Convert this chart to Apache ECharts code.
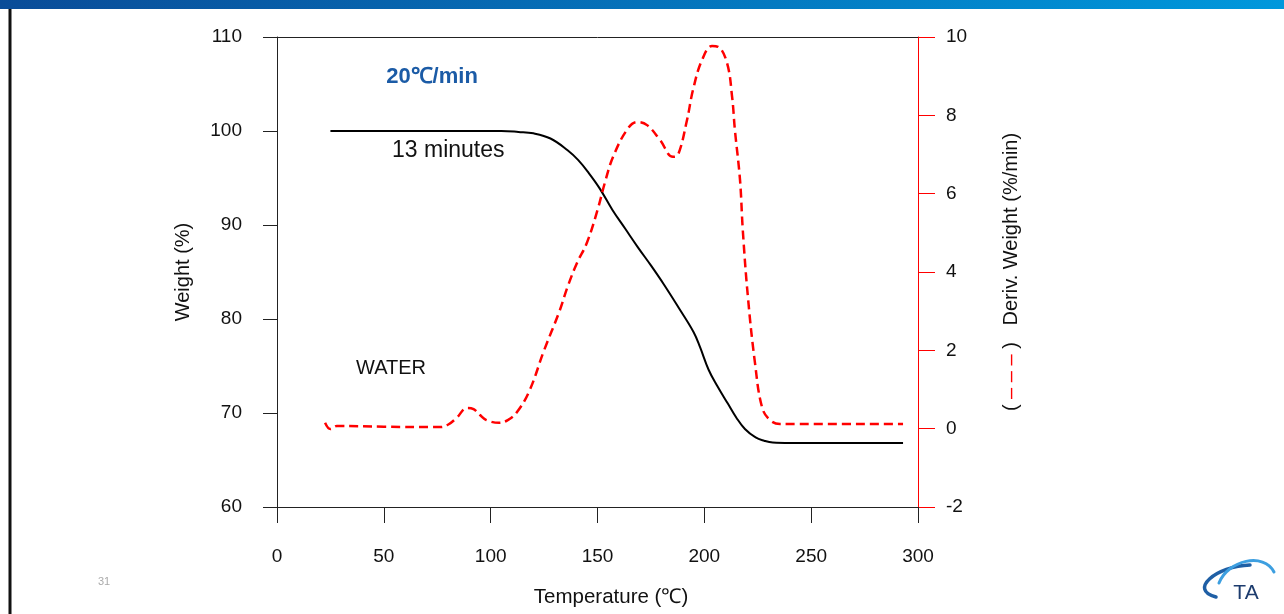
<!DOCTYPE html>
<html>
<head>
<meta charset="utf-8">
<title>TGA 20℃/min</title>
<script src="https://cdn.jsdelivr.net/npm/echarts@6/dist/echarts.min.js"></script>
<style>
  html, body { margin: 0; padding: 0; background: #ffffff; }
  #chart { width: 1284px; height: 614px; }
</style>
</head>
<body>
<div id="chart"></div>
<script>
// Temperature axis (℃)
const tempMin = 0, tempMax = 300, tempStep = 50;
// Weight axis (%)
const weightMin = 60, weightMax = 110, weightStep = 10;
// Derivative axis (%/min)
const derivMin = -2, derivMax = 10, derivStep = 2;

// Weight curve
const weightTemp = [25, 60, 105, 113, 120, 128, 136, 141, 146, 151, 157, 163, 169, 175, 181, 188, 195, 198, 202, 206, 211, 215, 219, 224, 228, 232, 240, 293];
const weightPct  = [100, 100, 100, 99.9, 99.75, 99.2, 97.95, 96.9, 95.5, 93.9, 91.6, 89.6, 87.6, 85.7, 83.7, 81.2, 78.6, 77.0, 74.6, 72.9, 71.0, 69.5, 68.3, 67.4, 67.05, 66.85, 66.8, 66.8];

// Derivative weight curve
const derivTemp = [22.5, 25, 28, 50, 76, 80, 84, 89, 92, 95, 98, 104, 108, 112, 118, 125, 132, 136, 140.4, 145, 150, 153.5, 157.3, 163.8, 168.5, 173.2, 179.3, 185.3, 187.7, 191.9, 194.7, 198.9, 203.6, 206.4, 210.6, 213, 214.3, 216.7, 218, 220.4, 223.7, 227, 230.7, 235.4, 293];
const derivRate = [0.15, -0.01, 0.07, 0.05, 0.04, 0.1, 0.27, 0.53, 0.5, 0.35, 0.22, 0.15, 0.22, 0.4, 0.95, 2.0, 2.97, 3.62, 4.23, 4.74, 5.58, 6.29, 6.94, 7.63, 7.83, 7.75, 7.37, 6.94, 6.99, 7.88, 8.65, 9.41, 9.77, 9.75, 9.34, 8.47, 7.63, 6.35, 5.07, 3.36, 1.68, 0.55, 0.22, 0.12, 0.12];

const zip = (xs, ys) => xs.map((x, i) => [x, ys[i]]);

const FONT = '"Liberation Sans", Arial, Helvetica, sans-serif';
const INK = '#111111';

const chart = echarts.init(document.getElementById('chart'), null, { renderer: 'canvas' });

chart.setOption({
  animation: false,
  backgroundColor: '#ffffff',
  textStyle: { fontFamily: FONT },
  grid: { left: 277, right: 366, top: 37, bottom: 107, containLabel: false },
  xAxis: [
    {
      type: 'value', position: 'bottom',
      min: tempMin, max: tempMax, interval: tempStep,
      name: 'Temperature (℃)', nameLocation: 'middle', nameGap: 80,
      nameTextStyle: { fontSize: 20.5, color: INK, fontFamily: FONT, padding: [0, 0, 0, 27] },
      axisLine: { show: true, onZero: false, lineStyle: { color: '#222', width: 1 } },
      axisTick: { show: true, inside: false, length: 16, lineStyle: { color: '#222', width: 1 } },
      axisLabel: { margin: 40, fontSize: 19, color: INK, fontFamily: FONT },
      splitLine: { show: false }
    },
    {
      type: 'value', position: 'top',
      min: tempMin, max: tempMax,
      axisLine: { show: true, onZero: false, lineStyle: { color: '#222', width: 1 } },
      axisTick: { show: false }, axisLabel: { show: false }, splitLine: { show: false }
    }
  ],
  yAxis: [
    {
      type: 'value', position: 'left',
      min: weightMin, max: weightMax, interval: weightStep,
      name: 'Weight (%)', nameLocation: 'middle', nameGap: 84,
      nameTextStyle: { fontSize: 20, color: INK, fontFamily: FONT },
      axisLine: { show: true, onZero: false, lineStyle: { color: '#222', width: 1 } },
      axisTick: { show: true, inside: false, length: 14, lineStyle: { color: '#222', width: 1 } },
      axisLabel: { margin: 35, fontSize: 19, color: INK, fontFamily: FONT },
      splitLine: { show: false }
    },
    {
      type: 'value', position: 'right',
      min: derivMin, max: derivMax, interval: derivStep,
      name: '{b|(}{r| – – – }{b|)}   Deriv. Weight (%/min)',
      nameLocation: 'middle', nameGap: 83,
      nameTextStyle: {
        fontSize: 20, color: INK, fontFamily: FONT,
        rich: {
          b: { fontSize: 20, color: INK, fontFamily: FONT },
          r: { fontSize: 20, color: '#ff0000', fontFamily: FONT }
        }
      },
      axisLine: { show: true, onZero: false, lineStyle: { color: '#ff0000', width: 1 } },
      axisTick: { show: true, inside: false, length: 17, lineStyle: { color: '#ff0000', width: 1 } },
      axisLabel: { margin: 28, fontSize: 19, color: INK, fontFamily: FONT },
      splitLine: { show: false }
    }
  ],
  series: [
    {
      name: 'Weight', type: 'line', xAxisIndex: 0, yAxisIndex: 0,
      data: zip(weightTemp, weightPct),
      showSymbol: false, smooth: 0.4,
      lineStyle: { color: '#000000', width: 2 },
      z: 3
    },
    {
      name: 'Deriv. Weight', type: 'line', xAxisIndex: 0, yAxisIndex: 1,
      data: zip(derivTemp, derivRate),
      showSymbol: false, smooth: 0.4,
      lineStyle: { color: '#ff0000', width: 2.5, type: [9, 5] },
      z: 4
    }
  ],
  graphic: [
    // header band
    {
      type: 'rect', left: 0, top: 0, z: 10,
      shape: { width: 1284, height: 9 },
      style: {
        fill: new echarts.graphic.LinearGradient(0, 0, 1, 0, [
          { offset: 0, color: '#0a4c98' },
          { offset: 1, color: '#0098dc' }
        ])
      }
    },
    // left page rule
    { type: 'rect', left: 8.5, top: 9, z: 10, shape: { width: 3, height: 605 }, style: { fill: '#111' } },
    // annotations
    {
      type: 'text', x: 432, y: 77, z: 10,
      style: { text: '20℃/min', fill: '#1b5ba6', font: 'bold 22px ' + FONT, textAlign: 'center', textVerticalAlign: 'middle' }
    },
    {
      type: 'text', x: 392, y: 151, z: 10,
      style: { text: '13 minutes', fill: INK, font: '23px ' + FONT, textAlign: 'left', textVerticalAlign: 'middle' }
    },
    {
      type: 'text', x: 356, y: 368, z: 10,
      style: { text: 'WATER', fill: INK, font: '20px ' + FONT, textAlign: 'left', textVerticalAlign: 'middle' }
    },
    // page number
    {
      type: 'text', x: 104, y: 582, z: 10,
      style: { text: '31', fill: '#aaaaaa', font: '11px ' + FONT, textAlign: 'center', textVerticalAlign: 'middle' }
    },
    // TA logo
    {
      type: 'group', z: 10,
      children: [
        {
          type: 'bezierCurve',
          shape: { x1: 1250, y1: 565, x2: 1216, y2: 597, cpx1: 1216, cpy1: 566, cpx2: 1188, cpy2: 590 },
          style: { stroke: '#1f5fa5', lineWidth: 3.5, fill: null, lineCap: 'round' }
        },
        {
          type: 'bezierCurve',
          shape: { x1: 1219, y1: 583, x2: 1274, y2: 572, cpx1: 1228, cpy1: 560, cpx2: 1264, cpy2: 552 },
          style: { stroke: '#3d9fe0', lineWidth: 3, fill: null, lineCap: 'round' }
        },
        {
          type: 'text', x: 1246, y: 593,
          style: { text: 'TA', fill: '#1d3c6e', font: '21px ' + FONT, textAlign: 'center', textVerticalAlign: 'middle' }
        }
      ]
    }
  ]
});
</script>
</body>
</html>
